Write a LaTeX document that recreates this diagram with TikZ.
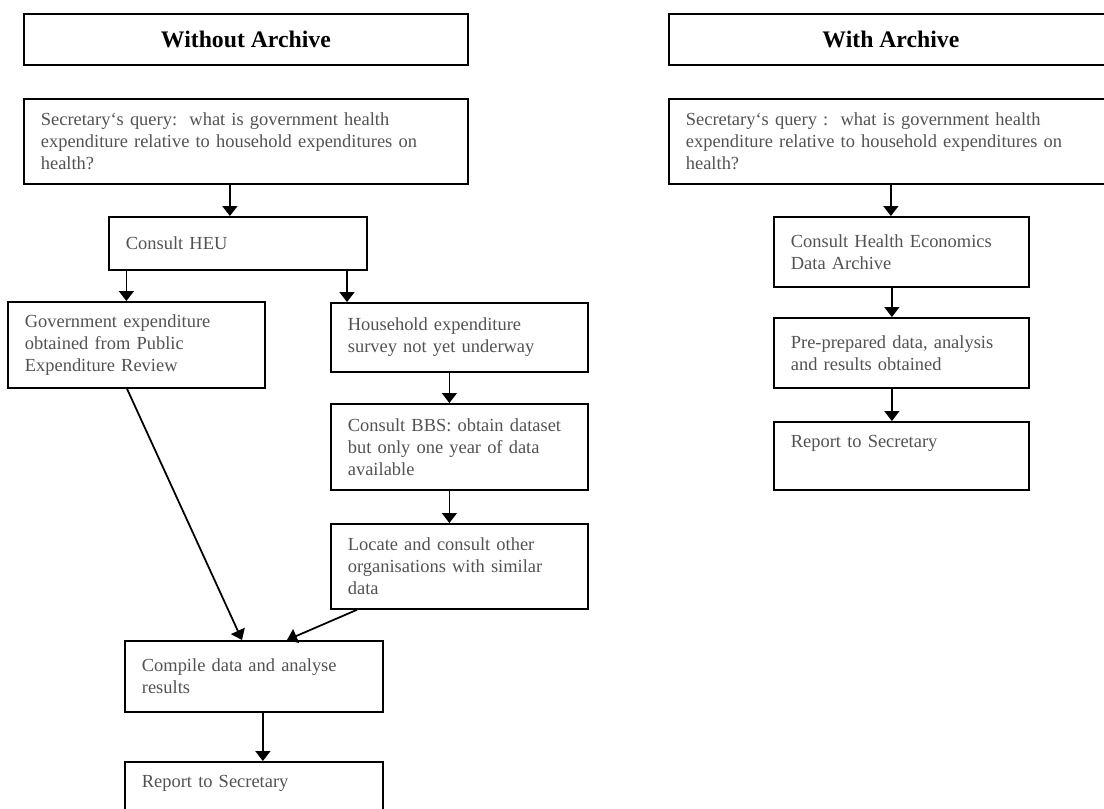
\documentclass[tikz,border=0pt]{standalone}
\usepackage{fontspec}
\setmainfont{Liberation Serif}
\usepackage{tikz}
\usetikzlibrary{arrows.meta}

\begin{document}
\begin{tikzpicture}[
    box/.style={draw, line width=1pt, anchor=north west, align=left,
      inner xsep=0.34cm, inner ysep=0pt, text=black!68,
      font=\fontsize{10.5}{12.6}\selectfont},
    titlebox/.style={draw, line width=1pt, anchor=north west, align=center,
      minimum width=8.88cm, minimum height=1.02cm,
      font=\fontsize{13.5}{16}\selectfont\bfseries},
    arr/.style={line width=1pt, -{Triangle[width=0.3cm,length=0.2cm]}}]
  \useasboundingbox (0,0) rectangle (22.08,-16.16);
  \clip (0,0) rectangle (22.08,-16.16);

  \node[titlebox] (titleL) at (0.46,-0.26) {Without Archive};
  \node[box, minimum width=8.88cm, minimum height=1.70cm, text width=8.2cm] (queryL) at (0.46,-1.96)
    {Secretary`s query:\ \ what is government health\\ expenditure relative to household expenditures on\\ health?};
  \node[box, minimum width=5.16cm, minimum height=1.06cm, text width=4.48cm] (heu) at (2.16,-4.32) {Consult HEU};
  \node[box, minimum width=5.14cm, minimum height=1.72cm, text width=4.46cm] (govexp) at (0.14,-6.02)
    {Government expenditure\\ obtained from Public\\ Expenditure Review};
  \node[box, minimum width=5.14cm, minimum height=1.38cm, text width=4.46cm] (household) at (6.60,-6.04)
    {Household expenditure\\ survey not yet underway};
  \node[box, minimum width=5.14cm, minimum height=1.72cm, text width=4.46cm] (bbs) at (6.60,-8.06)
    {Consult BBS: obtain dataset\\ but only one year of data\\ available};
  \node[box, minimum width=5.14cm, minimum height=1.70cm, text width=4.46cm] (locate) at (6.60,-10.46)
    {Locate and consult other\\ organisations with similar\\ data};
  \node[box, minimum width=5.16cm, minimum height=1.42cm, text width=4.48cm] (compile) at (2.48,-12.80)
    {Compile data and analyse\\ results};
  \node[box, minimum width=5.16cm, minimum height=1.36cm, text width=4.48cm] (reportL) at (2.48,-15.22)
    {Report to Secretary\\ \strut};

  \node[titlebox] (titleR) at (13.36,-0.26) {With Archive};
  \node[box, minimum width=8.88cm, minimum height=1.70cm, text width=8.2cm] (queryR) at (13.36,-1.96)
    {Secretary`s query :\ \ what is government health\\ expenditure relative to household expenditures on\\ health?};
  \node[box, minimum width=5.10cm, minimum height=1.40cm, text width=4.42cm] (heda) at (15.46,-4.32)
    {Consult Health Economics\\ Data Archive};
  \node[box, minimum width=5.10cm, minimum height=1.40cm, text width=4.42cm] (prepared) at (15.46,-6.34)
    {Pre-prepared data, analysis\\ and results obtained};
  \node[box, minimum width=5.10cm, minimum height=1.36cm, text width=4.42cm] (reportR) at (15.46,-8.42)
    {Report to Secretary\\ \strut};

  \draw[arr] ([xshift=-0.16cm]heu.north |- queryL.south) -- ([xshift=-0.16cm]heu.north);
  \draw[arr] ([xshift=-0.2cm]govexp.north |- heu.south) -- ([xshift=-0.2cm]govexp.north);
  \draw[arr] ([xshift=0.34cm]household.north west |- heu.south) -- ([xshift=0.34cm]household.north west);
  \draw[arr] ([xshift=-0.2cm]household.south) -- ([xshift=-0.2cm]bbs.north);
  \draw[arr] ([xshift=-0.2cm]bbs.south) -- ([xshift=-0.2cm]locate.north);
  \draw[arr] ([xshift=2.4cm]govexp.south west) -- ([xshift=2.36cm]compile.north west);
  \draw[arr] ([xshift=0.54cm]locate.south west) -- ([xshift=3.26cm]compile.north west);
  \draw[arr] ([xshift=0.18cm]compile.south) -- ([xshift=0.18cm]reportL.north);

  \draw[arr] (queryR.south) -- (queryR.south |- heda.north);
  \draw[arr] ([xshift=-0.19cm]heda.south) -- ([xshift=-0.19cm]prepared.north);
  \draw[arr] ([xshift=-0.19cm]prepared.south) -- ([xshift=-0.19cm]reportR.north);
\end{tikzpicture}
\end{document}
